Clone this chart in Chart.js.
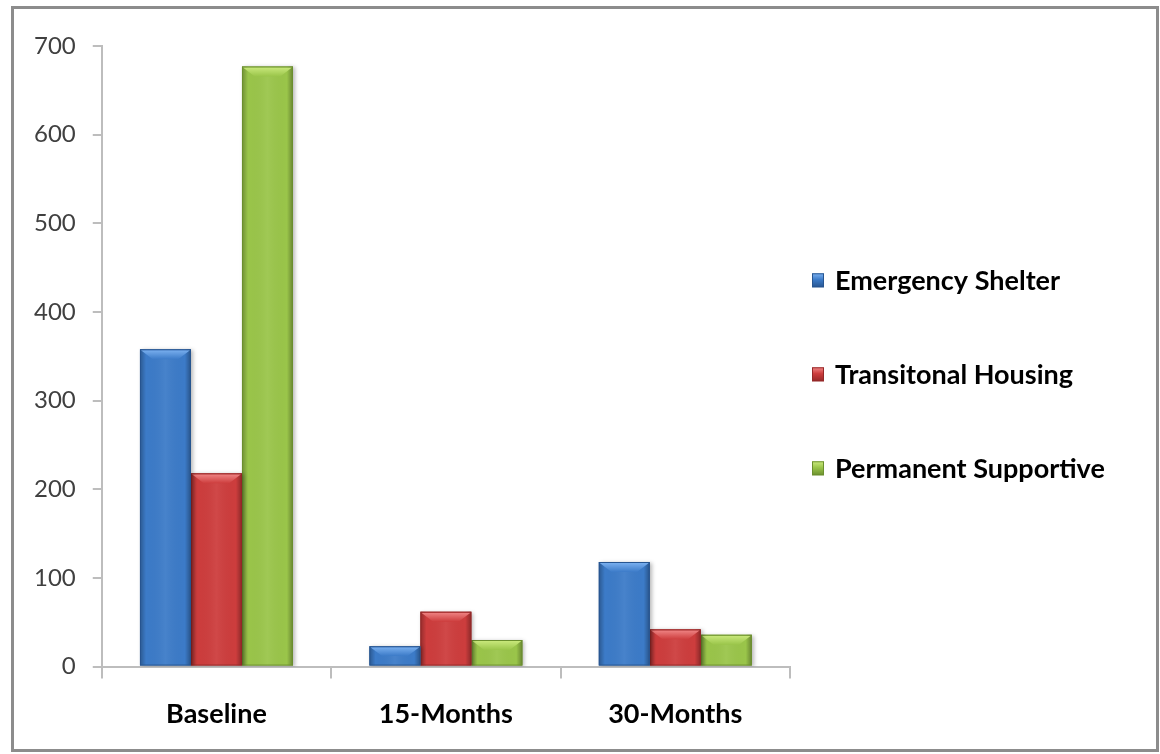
<!DOCTYPE html>
<html>
<head>
<meta charset="utf-8">
<script src="https://cdn.jsdelivr.net/npm/chart.js@4/dist/chart.umd.min.js"></script>
<style>
  html, body { margin: 0; padding: 0; background: #ffffff; }
  #frame {
    position: absolute; left: 11px; top: 6px;
    width: 1142px; height: 740px;
    border: 3px solid #8c8c8c;
    background: #ffffff;
  }
  canvas { display: block; }
</style>
</head>
<body>
<div id="frame"><canvas id="chart" width="1142" height="740"></canvas></div>
<script>
// Data
const categories = ['Baseline', '15-Months', '30-Months'];
const seriesNames = ['Emergency Shelter', 'Transitonal Housing', 'Permanent Supportive'];
const emergencyShelter = [358, 23, 118];
const transitionalHousing = [218, 62, 42];
const permanentSupportive = [677, 30, 36];
const yTickValues = [0, 100, 200, 300, 400, 500, 600, 700];

// Palette: base fill, edge/border, bevel highlight
const palette = [
  { fill: '#3c7bc8', edge: '#275590', light: '#7fb4f2' },
  { fill: '#cd3d3d', edge: '#952828', light: '#f28a8a' },
  { fill: '#9ac54a', edge: '#6b8f2e', light: '#cdeb80' }
];

const seriesValues = [emergencyShelter, transitionalHousing, permanentSupportive];

// Shadow under the bars
const barShadow = {
  id: 'barShadow',
  beforeDatasetsDraw(chart) {
    const ctx = chart.ctx;
    ctx.save();
    ctx.shadowColor = 'rgba(0,0,0,0.28)';
    ctx.shadowBlur = 4;
    ctx.shadowOffsetX = 2;
    ctx.shadowOffsetY = 1;
  },
  afterDatasetsDraw(chart) {
    chart.ctx.restore();
  }
};

// Shading and top bevel on each bar
function shadeBar(ctx, left, top, w, h, col) {
  if (h <= 0) return;
  ctx.save();
  ctx.shadowColor = 'transparent';
  // darker sides
  const g = ctx.createLinearGradient(left, 0, left + w, 0);
  g.addColorStop(0, 'rgba(0,0,0,0.28)');
  g.addColorStop(0.12, 'rgba(0,0,0,0.0)');
  g.addColorStop(0.5, 'rgba(255,255,255,0.06)');
  g.addColorStop(0.88, 'rgba(0,0,0,0.0)');
  g.addColorStop(1, 'rgba(0,0,0,0.32)');
  ctx.fillStyle = g;
  ctx.fillRect(left, top, w, h);
  // bevel on the top edge
  const b = Math.min(10, h / 2);
  const inset = Math.min(13, w / 4);
  const gb = ctx.createLinearGradient(0, top, 0, top + b);
  gb.addColorStop(0, col.light);
  gb.addColorStop(1, col.fill);
  ctx.fillStyle = gb;
  ctx.beginPath();
  ctx.moveTo(left + 1, top + 1);
  ctx.lineTo(left + w - 1, top + 1);
  ctx.lineTo(left + w - inset, top + b);
  ctx.lineTo(left + inset, top + b);
  ctx.closePath();
  ctx.fill();
  // outline
  ctx.strokeStyle = col.edge;
  ctx.lineWidth = 1;
  ctx.strokeRect(left + 0.5, top + 0.5, w - 1, h - 1);
  ctx.restore();
}

const barShading = {
  id: 'barShading',
  afterDatasetDraw(chart, args) {
    const ctx = chart.ctx;
    const col = palette[args.index];
    args.meta.data.forEach(bar => {
      const p = bar.getProps(['x', 'y', 'base', 'width'], true);
      const left = p.x - p.width / 2;
      const top = Math.min(p.y, p.base);
      const h = Math.abs(p.base - p.y);
      shadeBar(ctx, left, top, p.width, h, col);
    });
  }
};

// Legend drawn beside the plot area
const sideLegend = {
  id: 'sideLegend',
  afterDraw(chart) {
    const ctx = chart.ctx;
    const area = chart.chartArea;
    const x0 = area.right + 22;
    const yMid = (area.top + area.bottom) / 2 + 18;
    const gap = 94;
    ctx.save();
    ctx.font = 'bold 27px Lato';
    ctx.textBaseline = 'middle';
    chart.data.datasets.forEach((ds, i) => {
      const y = yMid + (i - 1) * gap;
      const col = palette[i];
      const bw = 12, bh = 14;
      const g = ctx.createLinearGradient(0, y - bh / 2, 0, y + bh / 2);
      g.addColorStop(0, col.light);
      g.addColorStop(0.45, col.fill);
      g.addColorStop(1, col.edge);
      ctx.fillStyle = g;
      ctx.fillRect(x0, y - bh / 2, bw, bh);
      ctx.strokeStyle = col.edge;
      ctx.lineWidth = 1;
      ctx.strokeRect(x0 + 0.5, y - bh / 2 + 0.5, bw - 1, bh - 1);
      ctx.fillStyle = '#000000';
      ctx.fillText(ds.label, x0 + 23, y + 1);
    });
    ctx.restore();
  }
};

new Chart(document.getElementById('chart'), {
  type: 'bar',
  data: {
    labels: categories,
    datasets: seriesNames.map((name, i) => ({
      label: name,
      data: seriesValues[i],
      backgroundColor: palette[i].fill,
      borderWidth: 0,
      categoryPercentage: 0.667,
      barPercentage: 1.0
    }))
  },
  options: {
    responsive: false,
    animation: false,
    layout: { padding: { left: 3, right: 366, top: 37, bottom: 0 } },
    plugins: {
      legend: { display: false },
      tooltip: { enabled: false },
      title: { display: false }
    },
    scales: {
      x: {
        grid: {
          display: true,
          drawOnChartArea: false,
          drawTicks: true,
          tickLength: 12,
          color: '#bdbdbd',
          lineWidth: 2,
          offset: true
        },
        border: { display: true, color: '#bdbdbd', width: 2 },
        ticks: {
          color: '#000000',
          padding: 19,
          font: { family: 'Lato', size: 27, weight: 'bold' }
        }
      },
      y: {
        min: 0,
        max: 700,
        afterBuildTicks(scale) {
          scale.ticks = yTickValues.map(v => ({ value: v }));
        },
        grid: {
          display: true,
          drawOnChartArea: false,
          drawTicks: true,
          tickLength: 9,
          color: '#bdbdbd',
          lineWidth: 2
        },
        border: { display: true, color: '#bdbdbd', width: 2 },
        ticks: {
          color: '#404040',
          padding: 17,
          font: { family: 'Lato', size: 24 }
        }
      }
    }
  },
  plugins: [barShadow, barShading, sideLegend]
});
</script>
</body>
</html>
